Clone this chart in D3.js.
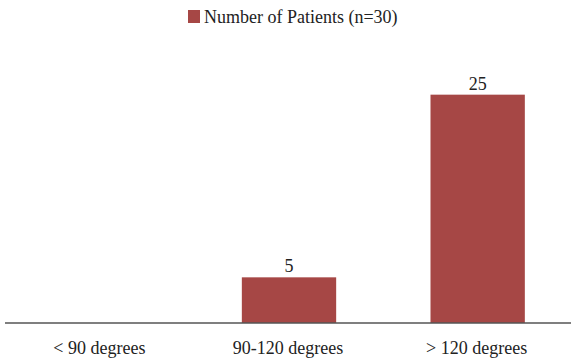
<!DOCTYPE html>
<html>
<head>
<meta charset="utf-8">
<script src="https://cdn.jsdelivr.net/npm/d3@7"></script>
<style>
  body { margin: 0; background: #fff; }
  text { font-family: "Liberation Serif", serif; fill: #222; }
</style>
</head>
<body>
<svg id="chart" width="571" height="358"></svg>
<script>
// data
const categories = ["< 90 degrees", "90-120 degrees", "> 120 degrees"];
const patients = [0, 5, 25];
const seriesName = "Number of Patients (n=30)";

const svg = d3.select("#chart");
const margin = {left: 5, right: 0, top: 49, bottom: 35};
const W = 571, H = 358;

let x = d3.scaleBand()
  .domain(categories)
  .range([margin.left, W - margin.right])
  .paddingInner(0.5)
  .paddingOuter(0.25);

let y = d3.scaleLinear()
  .domain([0, 30])
  .range([H - margin.bottom, margin.top]);

const barColor = "#a64745";
const rows = categories.map((c, i) => ({cat: c, v: patients[i]})).filter(d => d.v > 0);

// bars (zero bar draws nothing)
svg.append("g")
  .selectAll("rect")
  .data(rows)
  .enter()
  .append("rect")
  .attr("x", d => x(d.cat) + 1)
  .attr("width", x.bandwidth())
  .attr("y", d => y(d.v))
  .attr("height", d => y(0) - y(d.v))
  .attr("fill", barColor);

// value labels
svg.append("g")
  .selectAll("text")
  .data(rows)
  .enter()
  .append("text")
  .attr("x", d => x(d.cat) + 1 + x.bandwidth() / 2)
  .attr("y", d => y(d.v) - 5)
  .attr("text-anchor", "middle")
  .style("font-size", "18px")
  .text(d => d.v);

// x axis
let xAxis = svg.append("g")
  .attr("transform", `translate(0,${y(0)})`)
  .call(d3.axisBottom(x).tickSize(0).tickPadding(18));
xAxis.select(".domain").attr("stroke", "#555").attr("stroke-width", 1.5)
  .attr("d", `M${margin.left},0H${W}`);
xAxis.selectAll("text")
  .style("font-family", "'Liberation Serif', serif")
  .style("font-size", "18px")
  .attr("fill", "#222");

// legend
let legend = svg.append("g").attr("transform", "translate(188,10)");
legend.append("rect")
  .attr("width", 12).attr("height", 13)
  .attr("fill", barColor);
legend.append("text")
  .attr("x", 16).attr("y", 13)
  .style("font-size", "18px")
  .text(seriesName);
</script>
</body>
</html>
